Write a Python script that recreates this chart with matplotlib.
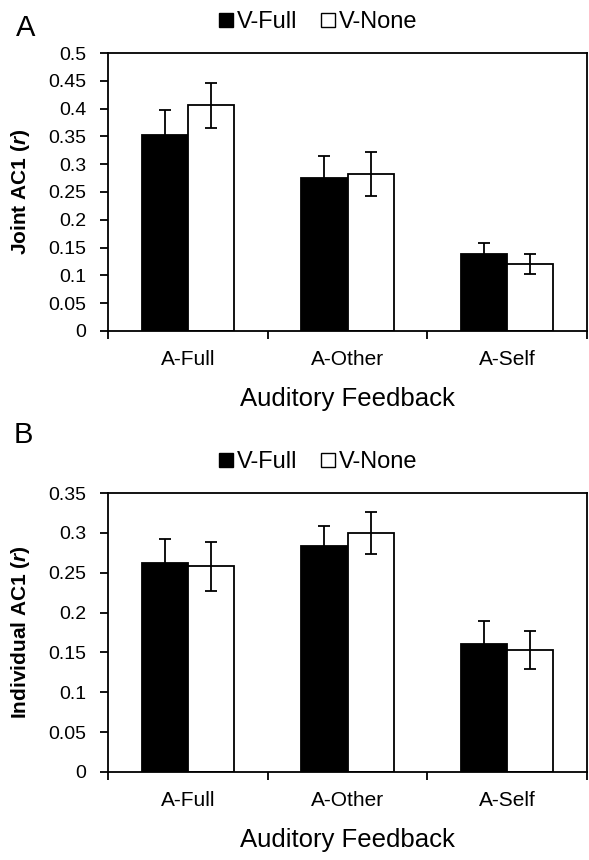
import matplotlib
matplotlib.use('Agg')
import matplotlib.pyplot as plt
import numpy as np
from matplotlib.lines import Line2D

plt.rcParams['font.family'] = ['Liberation Sans', 'DejaVu Sans']
plt.rcParams['mathtext.fontset'] = 'custom'
plt.rcParams['mathtext.rm'] = 'Liberation Sans'
plt.rcParams['mathtext.it'] = 'Liberation Sans:italic'
plt.rcParams['mathtext.bf'] = 'Liberation Sans:bold'
plt.rcParams['mathtext.bfit'] = 'Liberation Sans:italic:bold'

categories = ['A-Full', 'A-Other', 'A-Self']
series = ['V-Full', 'V-None']

# panel A: joint AC1
joint_vfull = [0.352, 0.276, 0.138]
joint_vfull_err = [0.045, 0.038, 0.020]
joint_vnone = [0.406, 0.282, 0.121]
joint_vnone_err = [0.040, 0.040, 0.018]
joint_ticks = [0, 0.05, 0.1, 0.15, 0.2, 0.25, 0.3, 0.35, 0.4, 0.45, 0.5]
joint_ticklabels = ['0', '0.05', '0.1', '0.15', '0.2', '0.25', '0.3', '0.35', '0.4', '0.45', '0.5']

# panel B: individual AC1
indiv_vfull = [0.262, 0.284, 0.161]
indiv_vfull_err = [0.030, 0.025, 0.029]
indiv_vnone = [0.258, 0.300, 0.153]
indiv_vnone_err = [0.031, 0.026, 0.024]
indiv_ticks = [0, 0.05, 0.1, 0.15, 0.2, 0.25, 0.3, 0.35]
indiv_ticklabels = ['0', '0.05', '0.1', '0.15', '0.2', '0.25', '0.3', '0.35']

W, H = 589, 860
fig = plt.figure(figsize=(W / 100, H / 100), dpi=100)


def panel(rect, vfull, vfull_err, vnone, vnone_err, ticks, ticklabels, ylabel):
    ax = fig.add_axes(rect)
    x = np.arange(len(categories))
    bw = 0.29
    kw = dict(edgecolor='black', linewidth=1.3, zorder=2)
    ax.bar(x - bw / 2, vfull, bw, color='black', **kw)
    ax.bar(x + bw / 2, vnone, bw, color='white', **kw)
    ekw = dict(fmt='none', ecolor='black', elinewidth=1.3, capsize=4.5, capthick=1.3, zorder=3)
    ax.errorbar(x - bw / 2, vfull, yerr=vfull_err, **ekw)
    ax.errorbar(x + bw / 2, vnone, yerr=vnone_err, **ekw)

    ax.set_xlim(-0.5, len(categories) - 0.5)
    ax.set_ylim(0, ticks[-1])
    ax.set_yticks(ticks)
    ax.set_yticklabels(ticklabels, fontsize=14)
    # category boundaries carry the tick marks, names sit in between
    ax.set_xticks(np.arange(len(categories) + 1) - 0.5)
    ax.set_xticklabels([])
    ax.set_xticks(x, minor=True)
    ax.set_xticklabels(categories, minor=True, fontsize=15)
    ax.tick_params(axis='x', which='major', direction='out', length=6, width=1.3)
    ax.tick_params(axis='x', which='minor', length=0, pad=14)
    ax.tick_params(axis='y', direction='out', length=6, width=1.3, pad=9.5)
    for s in ax.spines.values():
        s.set_linewidth(1.3)
    ax.set_xlabel('Auditory Feedback', fontsize=18.5, labelpad=12.5)
    ax.set_ylabel(ylabel, fontsize=15, fontweight='bold', labelpad=12)
    return ax


left = 108 / W
width = 479 / W
axA = panel([left, 1 - 331 / H, width, 278 / H], joint_vfull, joint_vfull_err,
            joint_vnone, joint_vnone_err, joint_ticks, joint_ticklabels,
            r'Joint AC1 ($\mathbfit{r}$)')
axB = panel([left, 1 - 772 / H, width, 279 / H], indiv_vfull, indiv_vfull_err,
            indiv_vnone, indiv_vnone_err, indiv_ticks, indiv_ticklabels,
            r'Individual AC1 ($\mathbfit{r}$)')

handles = [Line2D([], [], marker='s', linestyle='none', markersize=10,
                  markerfacecolor='black', markeredgecolor='black'),
           Line2D([], [], marker='s', linestyle='none', markersize=10,
                  markerfacecolor='white', markeredgecolor='black', markeredgewidth=1)]
for yc in (22, 462):
    fig.legend(handles, series, loc='center', bbox_to_anchor=(318 / W, 1 - yc / H),
               ncol=2, frameon=False, fontsize=17, handlelength=0.6,
               handletextpad=0.15, columnspacing=1.0)

fig.text(16 / W, 1 - 36 / H, 'A', fontsize=21, va='baseline')
fig.text(14 / W, 1 - 443 / H, 'B', fontsize=21, va='baseline')

fig.savefig('out.png', dpi=100)
